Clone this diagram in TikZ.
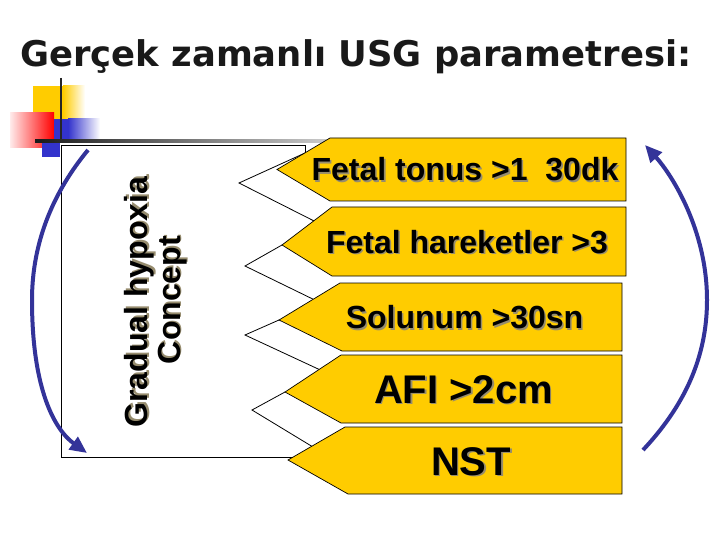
\documentclass[tikz,border=0pt]{standalone}
\usepackage{fontspec}
\setmainfont{Liberation Sans}
\newfontfamily\titlefont{DejaVu Sans}
\usetikzlibrary{arrows.meta}
\definecolor{arrowyellow}{RGB}{255,204,0}
\definecolor{cyclblue}{RGB}{51,51,153}
\definecolor{logoblue}{RGB}{51,51,204}
\definecolor{logored}{RGB}{255,0,0}
\definecolor{shadowgray}{RGB}{150,140,110}
\newcommand\myshadow[1]{\leavevmode\rlap{\kern1.6pt\raisebox{-1.6pt}{\textcolor{shadowgray}{#1}}}#1}
\begin{document}
\begin{tikzpicture}[x=1pt,y=-1pt,
  yarrow/.style={fill=arrowyellow,draw=black,line width=0.7pt,line join=miter},
  backline/.style={draw=black,line width=0.8pt},
  lbl/.style={font=\bfseries\fontsize{32}{36}\selectfont,inner sep=0pt,anchor=base},
  biglbl/.style={font=\bfseries\fontsize{40}{44}\selectfont,inner sep=0pt,anchor=base},
  sidelbl/.style={font=\bfseries\fontsize{32}{36}\selectfont,inner sep=0pt,rotate=90},
  cyclearrow/.style={draw=cyclblue,line width=4pt,-{Triangle[length=17pt,width=15pt]}}
]
\useasboundingbox (0,0) rectangle (720,540);
\fill[white] (0,0) rectangle (720,540);

% title
\node[anchor=base west,inner sep=0pt,font=\titlefont\bfseries\fontsize{35.4}{40}\selectfont,text=black!90] (title) at (20,67) {Gerçek zamanlı USG parametresi:};

% logo
\fill[arrowyellow] (33,86) rectangle (63,119);
\shade[left color=arrowyellow,right color=white] (63,86) rectangle (85,119);
\shade[left color=logored!8,right color=logored] (10,113) rectangle (54,148);
\fill[logoblue] (54,119) rectangle (68,141);
\shade[left color=logoblue,right color=white] (68,119) rectangle (100,141);
\fill[logoblue] (42,141) rectangle (60,157);
\draw[line width=2pt,black!85] (61,78) -- (61,143);
\shade[left color=black!90,right color=black!20] (35,140) rectangle (330,143);

% back frame
\draw[backline] (305,153) -- (305,145) -- (61,145) -- (61,457) -- (300,457);

% back (white) faces of the arrows
\draw[backline] (305,153) -- (239,183) -- (322,225);
\draw[backline] (282,245) -- (245,266) -- (325,305);
\draw[backline] (279,320) -- (245,335) -- (330,374.5);
\draw[backline] (285,392) -- (252,410) -- (325,454.3);

% yellow arrows
\path[yarrow] (277,169.5) -- (330,138) -- (626,138) -- (626,201) -- (330,201) -- cycle;
\path[yarrow] (282,245) -- (332,207) -- (626,207) -- (626,276) -- (332,276) -- cycle;
\path[yarrow] (279,320) -- (340,283) -- (622,283) -- (622,351) -- (342,351) -- cycle;
\path[yarrow] (285,392) -- (341,355) -- (622,355) -- (622,423) -- (341,423) -- cycle;
\path[yarrow] (288,460) -- (345,427) -- (622,427) -- (622,494) -- (348,494) -- cycle;

\node[lbl] (t1) at (465,181) {\myshadow{Fetal tonus >1\ \ 30dk}};
\node[lbl] (t2) at (467,253) {\myshadow{Fetal hareketler >3}};
\node[lbl] (t3) at (464.5,328.5) {\myshadow{Solunum >30sn}};
\node[biglbl] (t4) at (463.5,403) {\myshadow{AFI >2cm}};
\node[biglbl] (t5) at (471,475) {\myshadow{NST}};

% side label
\node[sidelbl] (g1) at (140,302) {\myshadow{Gradual hypoxia}};
\node[sidelbl] (g2) at (173,300) {\myshadow{Concept}};

% cycle arrows
\coordinate (ls) at (88,150);
\coordinate (lm) at (32,300);
\coordinate (le) at (87,453);
\draw[cyclearrow] (ls) .. controls (55,190) and (32,240) .. (lm) .. controls (32,390) and (55,430) .. (le);
\coordinate (rs) at (643,450);
\coordinate (rm) at (707,300);
\coordinate (re) at (645,145);
\draw[cyclearrow] (rs) .. controls (690,400) and (707,350) .. (rm) .. controls (707,230) and (672,175) .. (re);
\end{tikzpicture}
\end{document}
